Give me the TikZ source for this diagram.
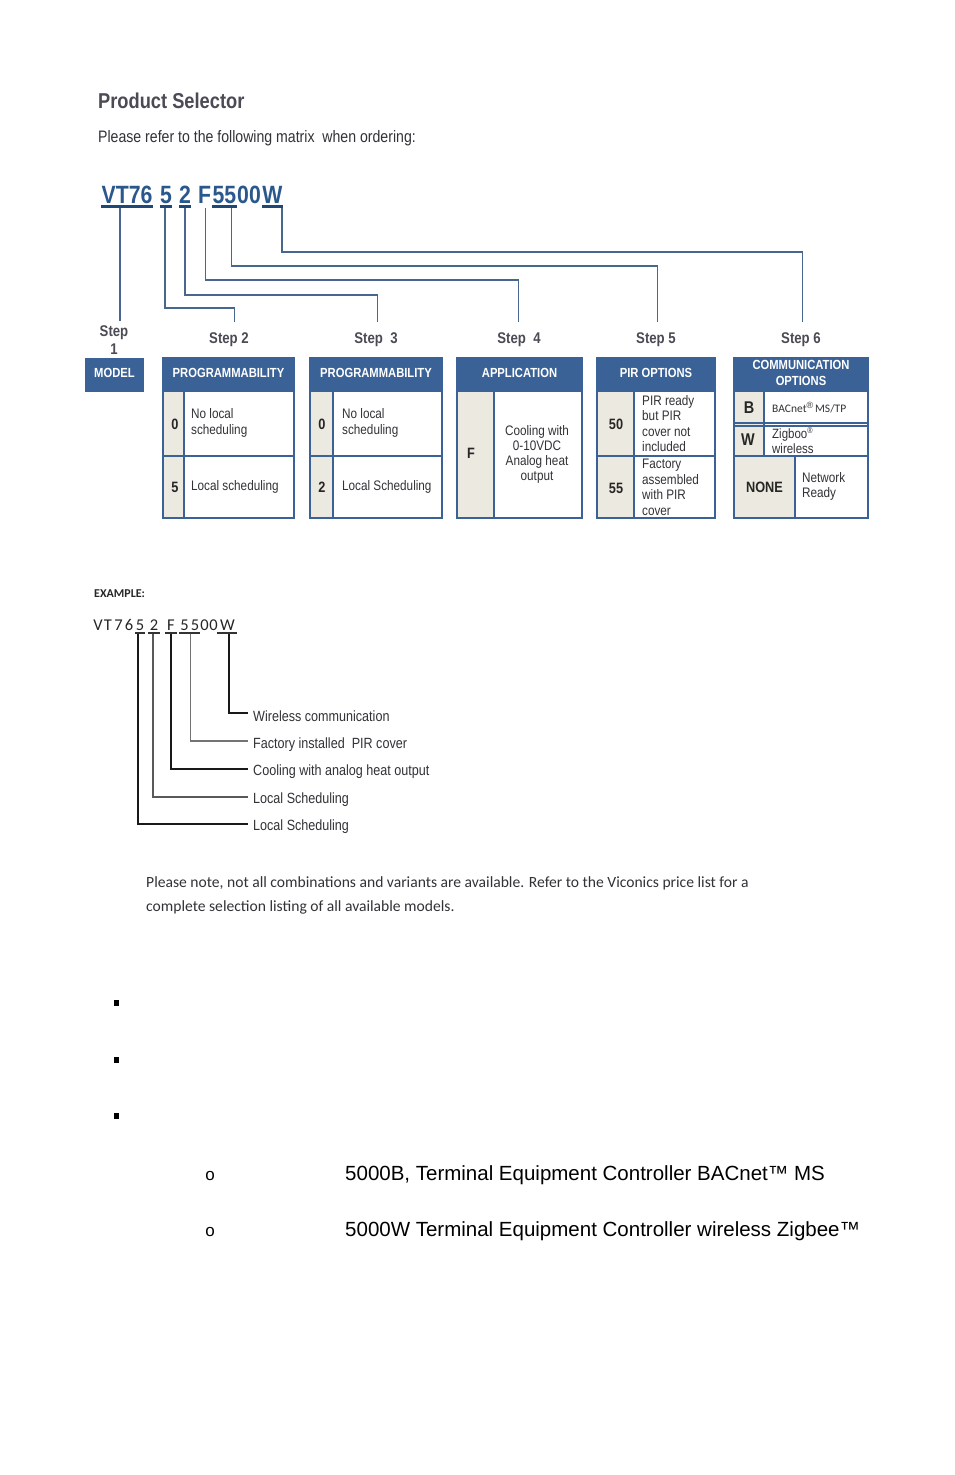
\documentclass[tikz,border=0pt]{standalone}
\usepackage{fontspec}
\setmainfont{Liberation Sans}
\newfontfamily\narrowfont[FakeStretch=0.85]{Liberation Sans}
\newfontfamily\calib{Carlito}
\definecolor{tblue}{RGB}{58,98,150}
\definecolor{beige}{RGB}{236,234,224}
\definecolor{cblue}{RGB}{72,102,142}
\definecolor{codeblue}{RGB}{42,88,140}
\definecolor{ulblue}{RGB}{30,72,118}
\definecolor{titlegray}{RGB}{75,75,85}
\definecolor{txtgray}{RGB}{50,50,55}
\begin{document}
\begin{tikzpicture}[x=1pt,y=-1pt,
  hdrtxt/.style={font=\narrowfont\bfseries\fontsize{13.2}{16}\selectfont, text=white, inner sep=0, align=center},
  celltxt/.style={font=\narrowfont\fontsize{13.8}{15.5}\selectfont, text=txtgray, align=left, anchor=west, inner sep=0},
  ctrtxt/.style={font=\narrowfont\fontsize{13.8}{15}\selectfont, text=txtgray, align=center, inner sep=0},
  keytxt/.style={font=\narrowfont\bfseries\fontsize{15}{16}\selectfont, text=black!85, inner sep=0},
  steplbl/.style={font=\narrowfont\bfseries\fontsize{15.5}{18}\selectfont, text=titlegray, align=center, inner sep=0},
  codetxt/.style={font=\narrowfont\bfseries\fontsize{25}{25}\selectfont, text=codeblue, inner sep=0, anchor=base},
  ul/.style={draw=ulblue, line width=3},
  tb/.style={draw=tblue, line width=1.8},
  thintb/.style={draw=tblue, line width=1.2},
  conn/.style={draw=cblue, line width=1.4},
  extxt/.style={font=\calib\fontsize{16.5}{16.5}\selectfont, text=black!85, inner sep=0, anchor=base},
  exul/.style={draw=black!80, line width=1.4},
  exln/.style={draw=black!90, line width=1.4},
  exlbl/.style={font=\narrowfont\fontsize{14.8}{14.8}\selectfont, text=txtgray, anchor=west, inner sep=0},
  bottxt/.style={font=\fontsize{20.5}{20.5}\selectfont, text=black, anchor=west, inner sep=0}
]
\useasboundingbox[fill=white] (0,0) rectangle (954,1475);

% Title
\node[font=\narrowfont\bfseries\fontsize{21.5}{22}\selectfont, text=titlegray, anchor=west, inner sep=0] (title) at (98,101) {Product Selector};
\node[font=\narrowfont\fontsize{16.6}{17}\selectfont, text=txtgray, anchor=west, inner sep=0] (intro) at (98,138) {Please refer to the following matrix\ \ when ordering:};

% Code
\node[codetxt] (cVT) at (127,203) {VT76};
\node[codetxt] (c5) at (166,203) {5};
\node[codetxt] (c2) at (185,203) {2};
\node[codetxt] (cF) at (204.5,203) {F};
\node[codetxt] (c55) at (224.5,203) {55};
\node[codetxt] (c00) at (249,203) {00};
\node[codetxt] (cW) at (272.5,203) {W};
\draw[ul] (101,206) -- (153,206);
\draw[ul] (160,206) -- (172,206);
\draw[ul] (179,206) -- (191,206);
\draw[ul] (212,206) -- (237,206);
\draw[ul] (262,206) -- (283,206);

% Step labels
\node[steplbl] (s1) at (114,340) {Step\\1};
\node[steplbl] (s2) at (229,339.5) {Step 2};
\node[steplbl] (s3) at (376,339.5) {Step\ \ 3};
\node[steplbl] (s4) at (519,339.5) {Step\ \ 4};
\node[steplbl] (s5) at (656,339.5) {Step 5};
\node[steplbl] (s6) at (801,339.5) {Step 6};

% Connectors
\coordinate (a1) at (120,208);
\coordinate (a2) at (165,208);
\coordinate (a3) at (185,208);
\coordinate (a4) at (205.5,208);
\coordinate (a5) at (231.5,208);
\coordinate (a6) at (282,208);
\coordinate (e1) at (120,321);
\coordinate (e2) at (234.5,322);
\coordinate (e3) at (377.5,322);
\coordinate (e4) at (518.5,322);
\coordinate (e5) at (657.5,322);
\coordinate (e6) at (802.5,322);
\draw[conn] (a1) -- (e1);
\draw[conn] (a2) |- (e2 |- 0,308) -- (e2);
\draw[conn] (a3) |- (e3 |- 0,295) -- (e3);
\draw[conn] (a4) |- (e4 |- 0,280) -- (e4);
\draw[conn] (a5) |- (e5 |- 0,266) -- (e5);
\draw[conn] (a6) |- (e6 |- 0,252) -- (e6);

% MODEL
\fill[tblue] (85,358) rectangle (144,392);
\node[hdrtxt] (hModel) at (114.5,373) {MODEL};

% Step 2 table
\fill[tblue] (163,358) rectangle (294,392);
\fill[beige] (163,392) rectangle (184,518);
\fill[white] (184,392) rectangle (294,518);
\draw[thintb] (163,456) -- (294,456);
\draw[thintb] (184,392) -- (184,518);
\draw[tb] (163,358) rectangle (294,518);
\node[hdrtxt] (hP2) at (228.5,373) {PROGRAMMABILITY};
\node[keytxt] (k20) at (175,424) {0};
\node[keytxt] (k25) at (175,487) {5};
\node[celltxt] (t20) at (191,423) {No local\\scheduling};
\node[celltxt] (t25) at (191,487) {Local scheduling};

% Step 3 table
\fill[tblue] (310,358) rectangle (442,392);
\fill[beige] (310,392) rectangle (333,518);
\fill[white] (333,392) rectangle (442,518);
\draw[thintb] (310,456) -- (442,456);
\draw[thintb] (333,392) -- (333,518);
\draw[tb] (310,358) rectangle (442,518);
\node[hdrtxt] (hP3) at (376,373) {PROGRAMMABILITY};
\node[keytxt] (k30) at (322,424) {0};
\node[keytxt] (k32) at (322,487) {2};
\node[celltxt] (t30) at (342,423) {No local\\scheduling};
\node[celltxt] (t32) at (342,487) {Local Scheduling};

% Step 4 table
\fill[tblue] (457,358) rectangle (582,392);
\fill[beige] (457,392) rectangle (494,518);
\fill[white] (494,392) rectangle (582,518);
\draw[thintb] (494,392) -- (494,518);
\draw[tb] (457,358) rectangle (582,518);
\node[hdrtxt] (hApp) at (519.5,373) {APPLICATION};
\node[keytxt] (k4F) at (471,453) {F};
\node[ctrtxt] (t4F) at (537,454.5) {Cooling with\\0-10VDC\\Analog heat\\output};

% Step 5 table
\fill[tblue] (597,358) rectangle (715,392);
\fill[beige] (597,392) rectangle (634,518);
\fill[white] (634,392) rectangle (715,518);
\draw[thintb] (597,456) -- (715,456);
\draw[thintb] (634,392) -- (634,518);
\draw[tb] (597,358) rectangle (715,518);
\node[hdrtxt] (hPIR) at (656,373) {PIR OPTIONS};
\node[keytxt] (k50) at (616,424) {50};
\node[keytxt] (k55) at (616,488) {55};
\node[celltxt] (t50) at (642,423.5) {PIR ready\\but PIR\\cover not\\included};
\node[celltxt] (t55) at (642,487.5) {Factory\\assembled\\with PIR\\cover};

% Step 6 table
\fill[tblue] (734,358) rectangle (868,392);
\fill[beige] (734,392) rectangle (764,456);
\fill[beige] (734,456) rectangle (795,518);
\fill[white] (764,392) rectangle (868,423);
\fill[white] (764,426) rectangle (868,456);
\fill[white] (795,456) rectangle (868,518);
\draw[thintb] (734,423) -- (868,423);
\draw[thintb] (734,426) -- (868,426);
\draw[thintb] (734,456) -- (868,456);
\draw[thintb] (764,392) -- (764,456);
\draw[thintb] (795,456) -- (795,518);
\draw[tb] (734,358) rectangle (868,518);
\node[hdrtxt] (hCom) at (801,373) {COMMUNICATION\\OPTIONS};
\node[keytxt, font=\narrowfont\bfseries\fontsize{17}{17}\selectfont] (k6B) at (749,408) {B};
\node[keytxt, font=\narrowfont\bfseries\fontsize{17}{17}\selectfont] (k6W) at (748,440) {W};
\node[keytxt, font=\narrowfont\bfseries\fontsize{15}{16}\selectfont] (k6N) at (764.5,487) {NONE};
\node[celltxt, font=\calib\fontsize{11.5}{12}\selectfont] (t6B) at (772,408) {BACnet\raisebox{4pt}{\fontspec{Liberation Sans}\fontsize{9}{9}\selectfont ®}\,MS/TP};
\node[celltxt, font=\narrowfont\fontsize{13.5}{14.5}\selectfont] (t6W) at (772,440.5) {Zigboo\raisebox{5pt}{\fontsize{8.5}{8.5}\selectfont ®}\\wireless};
\node[celltxt] (t6N) at (802,486.5) {Network\\Ready};

% Example
\node[font=\calib\bfseries\fontsize{12}{12}\selectfont, text=black!85, anchor=west, inner sep=0] (exhdr) at (94,594) {EXAMPLE:};
\foreach \nm/\xx/\ch in {x1/98/V, x2/108/T, x3/118.5/7, x4/129/6, x5/140/5, x6/154/2, x7/171/F, x8/184.5/5, x9/195/5, x10/204.5/0, x11/213.5/0, x12/227.5/W}
  \node[extxt] (\nm) at (\xx,630) {\ch};
\draw[exul] (135,633) -- (145,633);
\draw[exul] (148,633) -- (160,633);
\draw[exul] (165,633) -- (177,633);
\draw[exul] (179,633) -- (200,633);
\draw[exul] (217,633) -- (237,633);

\node[exlbl] (l1) at (253,716) {Wireless communication};
\node[exlbl] (l2) at (253,745) {Factory installed\ \ PIR cover};
\node[exlbl] (l3) at (253,772) {Cooling with analog heat output};
\node[exlbl] (l4) at (253,800) {Local Scheduling};
\node[exlbl] (l5) at (253,827) {Local Scheduling};
\coordinate (b1) at (229,634);
\coordinate (b2) at (190.5,634);
\coordinate (b3) at (171,634);
\coordinate (b4) at (153,634);
\coordinate (b5) at (138,634);
\draw[exln, line width=2] (b1) |- ([xshift=-5pt]l1.west |- 0,713);
\draw[exln, draw=black!55, line width=1.1] (b2) |- ([xshift=-5pt]l2.west |- 0,741);
\draw[exln] (b3) |- ([xshift=-5pt]l3.west |- 0,769);
\draw[exln, draw=black!65] (b4) |- ([xshift=-5pt]l4.west |- 0,797);
\draw[exln] (b5) |- ([xshift=-5pt]l5.west |- 0,824);

% Note
\node[font=\calib\fontsize{15.6}{24}\selectfont, text=txtgray, anchor=north west, align=left, inner sep=0] (note) at (146,876) {Please note, not all combinations and variants are available. Refer to the Viconics price list for a\\complete selection listing of all available models.};

% Bullets
\fill[black] (113.5,1000) rectangle (118.5,1006) coordinate (bu1);
\fill[black] (113.5,1057) rectangle (118.5,1063) coordinate (bu2);
\fill[black] (113.5,1113) rectangle (118.5,1119) coordinate (bu3);
\node[font=\fontsize{17}{17}\selectfont, inner sep=0] (o1) at (210,1176) {o};
\node[font=\fontsize{17}{17}\selectfont, inner sep=0] (o2) at (210,1232) {o};
\node[bottxt] (bt1) at (345,1175) {5000B, Terminal Equipment Controller BACnet™ MS};
\node[bottxt] (bt2) at (345,1231) {5000W Terminal Equipment Controller wireless Zigbee™};
\end{tikzpicture}
\end{document}
